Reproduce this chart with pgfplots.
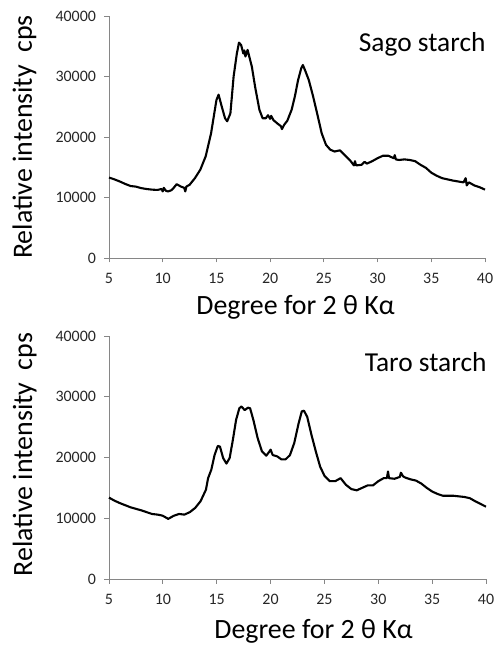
\documentclass[border=0pt]{standalone}
\usepackage{pgfplots}
\pgfplotsset{compat=1.18}
\usepackage{fontspec}
\setmainfont{Carlito}

\pgfplotstableread{
x y
5.0 13300
5.5 13000
6.0 12650
6.5 12250
7.0 11900
7.5 11800
8.0 11550
8.5 11400
9.0 11300
9.5 11250
9.9 11400
10.0 11000
10.1 11600
10.3 11100
10.5 11000
10.8 11200
11.0 11550
11.3 12200
11.7 11800
12.0 11600
12.1 11000
12.2 11800
12.5 12100
13.0 13200
13.5 14600
14.0 16800
14.5 20600
14.8 23900
15.0 26100
15.2 27000
15.5 25000
15.8 23100
16.0 22600
16.3 23900
16.6 30000
16.9 33800
17.1 35600
17.3 35200
17.5 33800
17.6 34300
17.7 33300
17.9 34400
18.1 33000
18.3 31600
18.6 28300
19.0 24500
19.3 23100
19.6 23100
19.8 23600
20.0 23000
20.1 23500
20.3 22800
20.7 22200
21.0 21800
21.1 21300
21.3 22000
21.6 22700
22.0 24500
22.3 26700
22.6 29400
22.9 31400
23.05 31900
23.3 30800
23.6 29400
24.0 26700
24.4 23700
24.8 20600
25.2 18700
25.6 17900
26.0 17600
26.5 17800
27.0 16900
27.5 16000
27.8 15300
27.9 16000
28.0 15300
28.5 15400
28.8 15900
29.0 15600
29.5 16000
30.0 16500
30.5 16900
31.0 16900
31.5 16500
31.6 17000
31.7 16300
32.0 16200
32.5 16300
33.0 16200
33.5 16000
34.0 15400
34.5 14900
35.0 14100
35.5 13600
36.0 13200
37.0 12800
38.0 12500
38.2 13200
38.3 12000
38.5 12500
39.0 12000
39.5 11700
40.0 11300
}\sago

\pgfplotstableread{
x y
5.0 13400
5.5 12900
6.0 12500
6.5 12150
7.0 11800
7.5 11550
8.0 11300
8.5 11000
9.0 10700
9.5 10600
9.8 10500
10.0 10400
10.5 9900
11.0 10400
11.5 10700
12.0 10600
12.5 11000
13.0 11700
13.5 12800
14.0 14700
14.2 16600
14.5 18000
14.8 20400
15.1 21900
15.3 21800
15.6 19900
15.9 19000
16.2 19900
16.5 22900
16.8 26200
17.1 28100
17.3 28400
17.6 27800
17.9 28200
18.1 28100
18.4 26200
18.8 23200
19.2 21000
19.6 20300
19.9 21000
20.0 21300
20.2 20400
20.6 20200
21.0 19700
21.4 19700
21.8 20400
22.2 22400
22.6 25600
22.9 27600
23.1 27700
23.4 26700
23.8 23700
24.2 21000
24.6 18500
25.0 17000
25.5 16100
26.0 16100
26.5 16600
27.0 15500
27.5 14800
28.0 14600
28.5 15000
29.0 15400
29.5 15400
30.0 16100
30.5 16600
30.8 16600
30.9 17700
31.0 16600
31.5 16500
32.0 16800
32.1 17500
32.3 16900
32.5 16700
33.0 16400
33.5 16200
34.0 15700
34.5 15000
35.0 14400
35.5 14000
36.0 13700
37.0 13700
38.0 13500
38.5 13300
39.0 12800
40.0 11900
}\taro

\definecolor{axisgray}{RGB}{134,134,134}
\pgfplotsset{
  xrdaxis/.style={
    scale only axis,
    anchor=south west,
    xmin=5, xmax=40,
    ymin=0, ymax=40000,
    xtick={5,10,...,40},
    ytick={0,10000,...,40000},
    axis x line*=bottom,
    axis y line*=left,
    axis line style={-, color=axisgray, line width=0.9bp},
    tick style={color=axisgray, line width=0.9bp},
    tick align=outside,
    major tick length=4.5bp,
    scaled y ticks=false,
    /pgf/number format/1000 sep={},
    /pgf/number format/assume math mode=true,
    tick label style={font=\fontsize{16}{18}\selectfont, text=black!85},
    xticklabel style={yshift=-7.5bp},
    yticklabel style={xshift=-5bp},
    label style={font=\fontsize{28}{31}\selectfont},
    clip=false,
  },
}

\begin{document}
\begin{tikzpicture}
\useasboundingbox (0,0) rectangle (495bp,648bp);

\begin{axis}[xrdaxis,
    at={(109bp,390bp)},
    width=376bp, height=242bp,
    xlabel={Degree for 2 θ Kα},
    ylabel={Relative intensity~ cps},
    xlabel style={at={(axis description cs:0.5,0)}, anchor=base, yshift=-57bp, xshift=-1.5bp},
    ylabel style={at={(axis description cs:-0.2048,0.5)}, anchor=base},
]
\addplot[black, line width=2.1bp, line join=round] table[x=x, y=y] {\sago};
\node[anchor=base east, font=\fontsize{27.5}{30}\selectfont] at (axis description cs:1.0106,0.8525) {Sago starch};
\end{axis}

\begin{axis}[xrdaxis,
    at={(109bp,69bp)},
    width=377bp, height=243bp,
    xlabel={Degree for 2 θ Kα},
    ylabel={Relative intensity~ cps},
    xlabel style={at={(axis description cs:0.5,0)}, anchor=base, yshift=-59bp, xshift=16bp},
    ylabel style={at={(axis description cs:-0.2042,0.512)}, anchor=base},
]
\addplot[black, line width=2.1bp, line join=round] table[x=x, y=y] {\taro};
\node[anchor=base east, font=\fontsize{27.5}{30}\selectfont] at (axis description cs:1.0106,0.853) {Taro starch};
\end{axis}
\end{tikzpicture}
\end{document}
